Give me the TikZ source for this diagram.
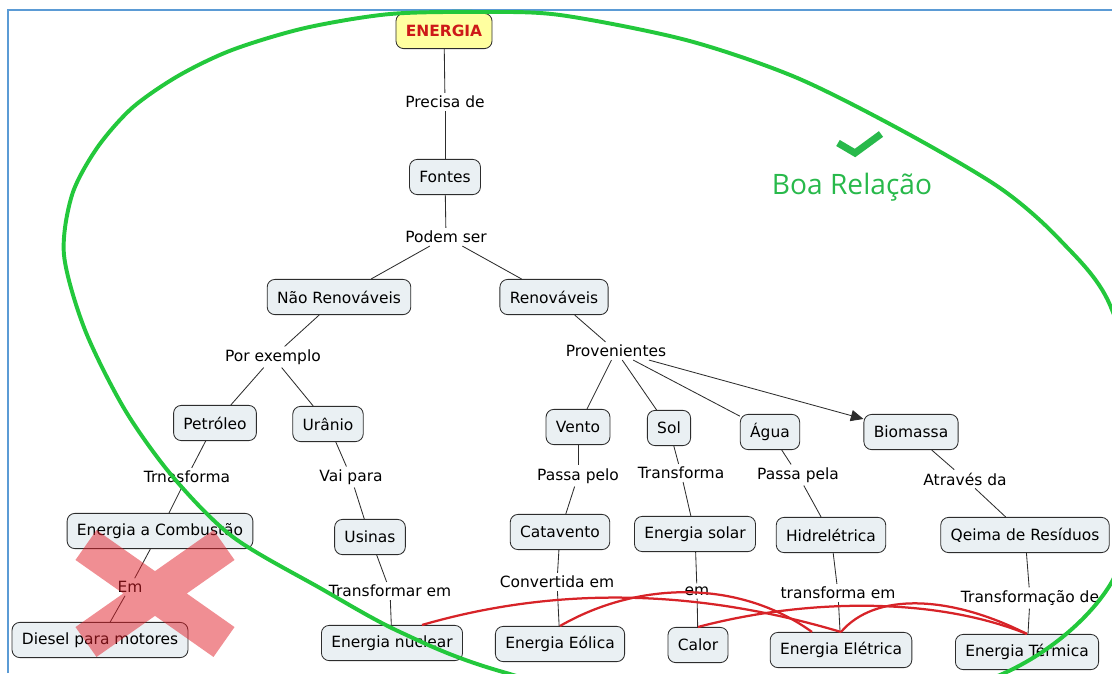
\documentclass[tikz,border=0pt]{standalone}
\usepackage{fontspec}
\setmainfont{DejaVu Sans}
\newfontfamily\boafont{Open Sans}
\usepackage{tikz}
\usetikzlibrary{arrows.meta}
\definecolor{caixa}{RGB}{234,240,243}
\definecolor{borda}{RGB}{45,45,45}
\definecolor{amarelo}{RGB}{255,255,160}
\definecolor{vermelho}{RGB}{205,25,25}
\definecolor{verde}{RGB}{35,200,60}
\definecolor{verdetxt}{RGB}{40,185,75}
\definecolor{moldura}{RGB}{91,155,213}
\definecolor{ligacao}{RGB}{215,35,40}
\definecolor{xis}{RGB}{225,30,40}

\begin{document}
\begin{tikzpicture}[x=0.025cm, y=-0.025cm,
        conceito/.style={draw=borda, fill=caixa, rounded corners=5.5pt, line width=0.6pt,
                inner xsep=7pt, minimum height=0.88cm, font=\fontsize{11}{13}\selectfont},
        frase/.style={inner sep=2pt, font=\fontsize{11}{13}\selectfont},
        liga/.style={draw=borda, line width=0.6pt},
        cruza/.style={draw=ligacao, line width=1.6pt}]
                \useasboundingbox (0,0) rectangle (1112,673);
                \draw[moldura, line width=2pt] (8,673) -- (8,10) -- (1112,10);

                % conceitos e frases de ligacao
                \node[conceito, fill=amarelo, text=vermelho, font=\fontsize{11}{13}\selectfont\bfseries] (energia) at (444,31) {ENERGIA};
                \node[frase] (precisa) at (445,102) {Precisa de};
                \node[conceito] (fontes) at (445,177) {Fontes};
                \node[frase] (podem) at (446,237) {Podem ser};
                \node[conceito] (naoren) at (339,297) {Não Renováveis};
                \node[conceito] (ren) at (554,297) {Renováveis};
                \node[frase] (porex) at (273,357) {Por exemplo};
                \node[frase] (proven) at (616,351) {Provenientes};
                \node[conceito] (petroleo) at (215,423) {Petróleo};
                \node[conceito] (uranio) at (328,424) {Urânio};
                \node[conceito] (vento) at (578,427) {Vento};
                \node[conceito] (sol) at (669,428) {Sol};
                \node[conceito] (agua) at (770,432) {Água};
                \node[conceito] (biomassa) at (911,432) {Biomassa};
                \node[frase] (trnasf) at (187,477) {Trnasforma};
                \node[frase] (vaipara) at (351,477) {Vai para};
                \node[frase] (passapelo) at (578,476) {Passa pelo};
                \node[frase] (transf) at (681,473) {Transforma};
                \node[frase] (passapela) at (798,475) {Passa pela};
                \node[frase] (atraves) at (965,479) {Através da};
                \node[conceito] (combustao) at (160,531) {Energia a Combustão};
                \node[conceito] (usinas) at (370,537) {Usinas};
                \node[conceito] (catavento) at (560,532) {Catavento};
                \node[conceito] (solar) at (695,534) {Energia solar};
                \node[conceito] (hidro) at (831,535) {Hidrelétrica};
                \node[conceito] (queima) at (1025,535) {Qeima de Resíduos};
                \node[frase] (em) at (130,587) {Em};
                \node[frase] (transfem) at (390,591) {Transformar em};
                \node[frase] (convertida) at (557,582) {Convertida em};
                \node[frase] (emsolar) at (697,591) {em};
                \node[frase] (transformaem) at (838,593) {transforma em};
                \node[frase] (transfde) at (1030,598) {Transformação de};
                \node[conceito] (diesel) at (100,640) {Diesel para motores};
                \node[conceito] (nuclear) at (392,643) {Energia nuclear};
                \node[conceito] (eolica) at (560,644) {Energia Eólica};
                \node[conceito] (calor) at (698,645) {Calor};
                \node[conceito] (eletrica) at (841,650) {Energia Elétrica};
                \node[conceito] (termica) at (1027,652) {Energia Térmica};

                \foreach \a/\b in {energia/precisa, precisa/fontes, fontes/podem, podem/naoren, podem/ren,
                        naoren/porex, porex/petroleo, porex/uranio, ren/proven, proven/vento, proven/sol, proven/agua,
                        petroleo/trnasf, trnasf/combustao, combustao/em, em/diesel,
                        uranio/vaipara, vaipara/usinas, usinas/transfem, transfem/nuclear,
                        vento/passapelo, passapelo/catavento, catavento/convertida, convertida/eolica,
                        sol/transf, transf/solar, solar/emsolar, emsolar/calor,
                        agua/passapela, passapela/hidro, hidro/transformaem, transformaem/eletrica,
                        biomassa/atraves, atraves/queima, queima/transfde, transfde/termica} {
                                \draw[liga] (\a) -- (\b);
                        }
                \draw[liga, -{Triangle[length=9pt, width=8pt]}] (proven) -- (biomassa);

                % ligacoes cruzadas
                \draw[cruza] ([xshift=0.75cm]nuclear.north) .. controls (560,585) and (700,590) .. (eletrica.north);
                \draw[cruza] (eolica.north) .. controls (640,580) and (740,580) .. ([xshift=-0.725cm]eletrica.north);
                \draw[cruza] (calor.north) .. controls (800,600) and (930,595) .. (termica.north);
                \draw[cruza] (eletrica.north) .. controls (875,592) and (950,595) .. (termica.north);

                % boa relacao
                \draw[verde, line width=2.8pt] plot[smooth cycle] coordinates {
                        (390,14) (480,12) (560,15) (686,40) (795,77) (901,130) (1000,188) (1060,240)
                        (1110,305) (1145,440) (1110,585) (1000,675) (760,735) (503,672) (400,632) (320,588)
                        (233,537) (173,477) (125,410) (85,330) (64,255) (72,195) (97,148) (132,108)
                        (178,76) (232,50) (305,28)};
                \draw[verdetxt, line width=5pt, line join=miter] (838,143) -- (855,153) -- (881,134);
                \node[text=verdetxt, font=\boafont\fontsize{20}{24}\selectfont] (boa) at (852,187) {Boa Relação};

                % ma relacao
                \draw[xis, opacity=0.5, line width=26pt] (86,545) -- (224,642) (224,545) -- (86,642);
            \end{tikzpicture}
\end{document}
